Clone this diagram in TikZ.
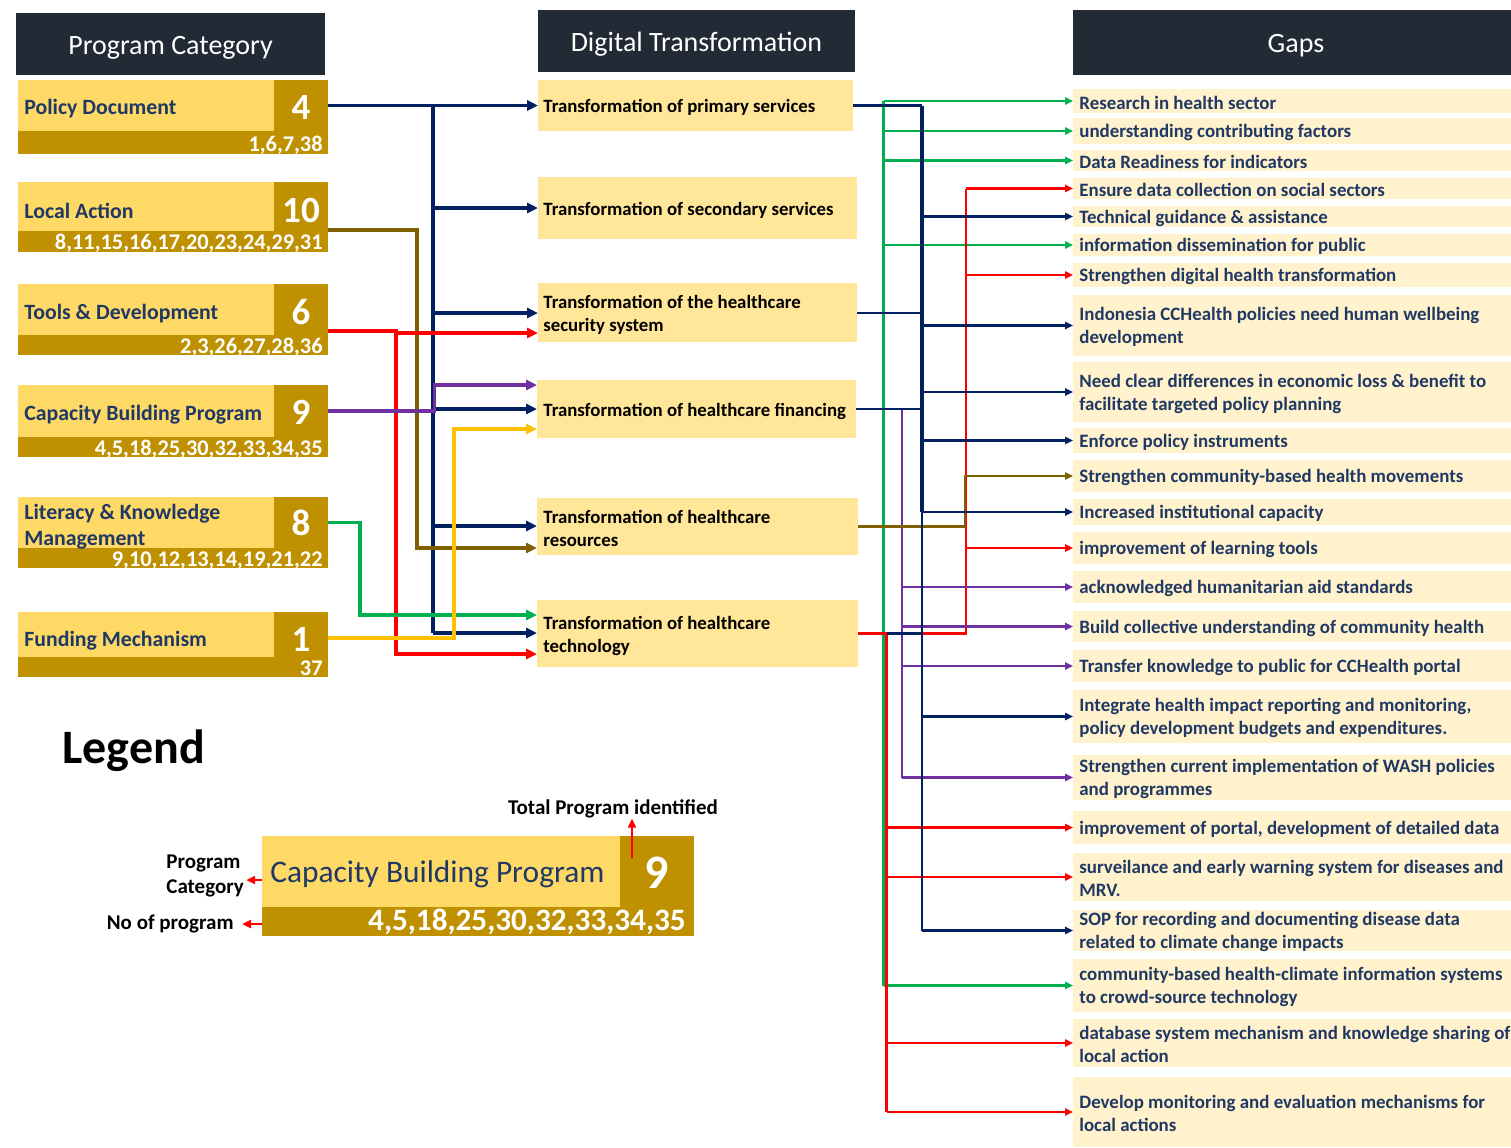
\documentclass[tikz,border=0pt]{standalone}
\usepackage{fontspec}
\setmainfont{Carlito}
\usetikzlibrary{fit,arrows.meta,calc}
\definecolor{hdr}{HTML}{222A35}
\definecolor{catL}{HTML}{FFD966}
\definecolor{catD}{HTML}{BF9000}
\definecolor{midB}{HTML}{FFE699}
\definecolor{gapB}{HTML}{FFF2CC}
\definecolor{navy}{HTML}{002060}
\definecolor{txtnavy}{HTML}{1F3864}
\definecolor{cred}{HTML}{FF0000}
\definecolor{cgreen}{HTML}{00B050}
\definecolor{cpurple}{HTML}{7030A0}
\definecolor{cbrown}{HTML}{7F6000}
\definecolor{cgold}{HTML}{FFC000}
\tikzset{
  box/.style={inner sep=0pt, outer sep=0pt, draw=none},
  hdrbox/.style={box, fill=hdr},
  hdrtext/.style={inner sep=0pt, yshift=-1.8pt, text=white, font=\fontsize{14}{16}\selectfont},
  catlight/.style={box, fill=catL},
  catdark/.style={box, fill=catD},
  cattext/.style={anchor=west, inner sep=0pt, yshift=-1.2pt, text=txtnavy, align=left, font=\bfseries\fontsize{10.9}{13}\selectfont},
  catnum/.style={inner sep=0pt, yshift=-0.6pt, text=white, font=\bfseries\fontsize{18.5}{20}\selectfont},
  catids/.style={anchor=east, inner sep=0pt, yshift=-0.6pt, text=white, font=\bfseries\fontsize{11.2}{12}\selectfont},
  midbox/.style={box, fill=midB},
  midtext/.style={anchor=west, inner sep=0pt, yshift=-1pt, text=black, align=left, font=\bfseries\fontsize{9.4}{11.5}\selectfont},
  gapbox/.style={box, fill=gapB},
  gaptext/.style={anchor=west, inner sep=0pt, yshift=-0.8pt, text=txtnavy, align=left, font=\bfseries\fontsize{9.45}{11.5}\selectfont},
  lconn/.style={line width=1.6pt},
  ltip/.style={-{Triangle[length=5.5pt,width=5pt]}},
  rline/.style={line width=1.1pt},
  rtip/.style={-{Triangle[length=4pt,width=3.6pt]}},
  legarrow/.style={cred, line width=1.2pt, -{Triangle[length=4.5pt,width=4pt]}},
  legnote/.style={inner sep=0pt, yshift=-1pt, text=black, align=left, font=\bfseries\fontsize{10.5}{12.5}\selectfont}
}
\begin{document}
\begin{tikzpicture}[x=0.5pt,y=-0.5pt]
\useasboundingbox (0,0) rectangle (1511,1147);
% headers
\node[hdrbox, fit={(16,13)(325,75)}] (pch) {};
\node[hdrtext] (pcht) at (pch.center) {Program Category};
\node[hdrbox, fit={(538,10)(855,72)}] (dth) {};
\node[hdrtext] (dtht) at (dth.center) {Digital Transformation};
\node[hdrbox, fit={(1073,10)(1511,75)}] (gph) {};
\node[hdrtext] (gpht) at ([xshift=2pt]gph.center) {Gaps};
% program categories
\node[catdark, fit={(18,80)(328,154)}] (pd) {};
\node[catlight, fit={(18,80)(274,131)}] (pdl) {};
\node[box, fit={(274,80)(328,131)}] (pdn) {};
\node[catnum] (pdnt) at (301,106) {4};
\node[cattext] (pdt) at (24,106) {Policy Document};
\node[catids] (pdi) at (323,144) {1,6,7,38};

\node[catdark, fit={(18,182)(328,252)}] (la) {};
\node[catlight, fit={(18,182)(274,231)}] (lal) {};
\node[box, fit={(274,182)(328,231)}] (lan) {};
\node[catnum] (lant) at (301,209) {10};
\node[cattext] (lat) at (24,209) {Local Action};
\node[catids] (lai) at (323,242) {8,11,15,16,17,20,23,24,29,31};

\node[catdark, fit={(18,284)(328,355)}] (td) {};
\node[catlight, fit={(18,284)(274,335)}] (tdl) {};
\node[box, fit={(274,284)(328,335)}] (tdn) {};
\node[catnum] (tdnt) at (301,311) {6};
\node[cattext] (tdt) at (24,311) {Tools \& Development};
\node[catids] (tdi) at (323,346) {2,3,26,27,28,36};

\node[catdark, fit={(18,385)(328,457)}] (cb) {};
\node[catlight, fit={(18,385)(274,437)}] (cbl) {};
\node[box, fit={(274,385)(328,437)}] (cbn) {};
\node[catnum] (cbnt) at (301,411) {9};
\node[cattext] (cbt) at (24,412) {Capacity Building Program};
\node[catids] (cbi) at (323,448) {4,5,18,25,30,32,33,34,35};

\node[catdark, fit={(18,497)(328,568)}] (lk) {};
\node[catlight, fit={(18,497)(274,548)}] (lkl) {};
\node[box, fit={(274,497)(328,548)}] (lkn) {};
\node[catnum] (lknt) at (301,522) {8};
\node[cattext] (lkt) at (24,524) {Literacy \& Knowledge\\Management};
\node[catids] (lki) at (323,559) {9,10,12,13,14,19,21,22};

\node[catdark, fit={(18,612)(328,677)}] (fm) {};
\node[catlight, fit={(18,612)(274,657)}] (fml) {};
\node[box, fit={(274,612)(328,657)}] (fmn) {};
\node[catnum] (fmnt) at (301,638) {1};
\node[cattext] (fmt) at (24,638) {Funding Mechanism};
\node[catids] (fmi) at (323,667) {37};
% digital transformation
\node[midbox, fit={(538,80)(853,131)}] (prim) {};
\node[midtext] (primt) at ([xshift=2.5pt]prim.west) {Transformation of primary services};
\node[midbox, fit={(538,177)(857,239)}] (sec) {};
\node[midtext] (sect) at ([xshift=2.5pt]sec.west) {Transformation of secondary services};
\node[midbox, fit={(538,283)(857,342)}] (secu) {};
\node[midtext] (secut) at ([xshift=2.5pt]secu.west) {Transformation of the healthcare\\security system};
\node[midbox, fit={(537,380)(856,438)}] (fin) {};
\node[midtext] (fint) at ([xshift=3pt]fin.west) {Transformation of healthcare financing};
\node[midbox, fit={(537,498)(858,555)}] (res) {};
\node[midtext] (rest) at ([xshift=3pt]res.west) {Transformation of healthcare\\resources};
\node[midbox, fit={(537,600)(858,667)}] (tech) {};
\node[midtext] (techt) at ([xshift=3pt]tech.west) {Transformation of healthcare\\technology};
% gaps
\node[gapbox, fit={(1073,89)(1511,113)}] (g1) {};
\node[gaptext] (g1t) at ([xshift=3pt]g1.west) {Research in health sector};
\node[gapbox, fit={(1073,118)(1511,144)}] (g2) {};
\node[gaptext] (g2t) at ([xshift=3pt]g2.west) {understanding contributing factors};
\node[gapbox, fit={(1073,150)(1511,171)}] (g3) {};
\node[gaptext] (g3t) at ([xshift=3pt]g3.west) {Data Readiness for indicators};
\node[gapbox, fit={(1073,178)(1511,199)}] (g4) {};
\node[gaptext] (g4t) at ([xshift=3pt]g4.west) {Ensure data collection on social sectors};
\node[gapbox, fit={(1073,206)(1511,227)}] (g5) {};
\node[gaptext] (g5t) at ([xshift=3pt]g5.west) {Technical guidance \& assistance};
\node[gapbox, fit={(1073,234)(1511,256)}] (g6) {};
\node[gaptext] (g6t) at ([xshift=3pt]g6.west) {information dissemination for public};
\node[gapbox, fit={(1073,263)(1511,287)}] (g7) {};
\node[gaptext] (g7t) at ([xshift=3pt]g7.west) {Strengthen digital health transformation};
\node[gapbox, fit={(1073,295)(1511,356)}] (g8) {};
\node[gaptext] (g8t) at ([xshift=3pt]g8.west) {Indonesia CCHealth policies need human wellbeing\\development};
\node[gapbox, fit={(1073,362)(1511,422)}] (g9) {};
\node[gaptext] (g9t) at ([xshift=3pt]g9.west) {Need clear differences in economic loss \& benefit to\\facilitate targeted policy planning};
\node[gapbox, fit={(1073,428)(1511,453)}] (g10) {};
\node[gaptext] (g10t) at ([xshift=3pt]g10.west) {Enforce policy instruments};
\node[gapbox, fit={(1073,460)(1511,492)}] (g11) {};
\node[gaptext] (g11t) at ([xshift=3pt]g11.west) {Strengthen community-based health movements};
\node[gapbox, fit={(1073,499)(1511,525)}] (g12) {};
\node[gaptext] (g12t) at ([xshift=3pt]g12.west) {Increased institutional capacity};
\node[gapbox, fit={(1073,532)(1511,564)}] (g13) {};
\node[gaptext] (g13t) at ([xshift=3pt]g13.west) {improvement of learning tools};
\node[gapbox, fit={(1073,571)(1511,603)}] (g14) {};
\node[gaptext] (g14t) at ([xshift=3pt]g14.west) {acknowledged humanitarian aid standards};
\node[gapbox, fit={(1073,611)(1511,642)}] (g15) {};
\node[gaptext] (g15t) at ([xshift=3pt]g15.west) {Build collective understanding of community health};
\node[gapbox, fit={(1073,650)(1511,682)}] (g16) {};
\node[gaptext] (g16t) at ([xshift=3pt]g16.west) {Transfer knowledge to public for CCHealth portal};
\node[gapbox, fit={(1073,690)(1511,743)}] (g17) {};
\node[gaptext] (g17t) at ([xshift=3pt]g17.west) {Integrate health impact reporting and monitoring,\\policy development budgets and expenditures.};
\node[gapbox, fit={(1073,755)(1511,800)}] (g18) {};
\node[gaptext] (g18t) at ([xshift=3pt]g18.west) {Strengthen current implementation of WASH policies\\and programmes};
\node[gapbox, fit={(1073,811)(1511,844)}] (g19) {};
\node[gaptext] (g19t) at ([xshift=3pt]g19.west) {improvement of portal, development of detailed data};
\node[gapbox, fit={(1073,853)(1511,901)}] (g20) {};
\node[gaptext] (g20t) at ([xshift=3pt]g20.west) {surveilance and early warning system for diseases and\\MRV.};
\node[gapbox, fit={(1073,910)(1511,951)}] (g21) {};
\node[gaptext] (g21t) at ([xshift=3pt]g21.west) {SOP for recording and documenting disease data\\related to climate change impacts};
\node[gapbox, fit={(1073,959)(1511,1012)}] (g22) {};
\node[gaptext] (g22t) at ([xshift=3pt]g22.west) {community-based health-climate information systems\\to crowd-source technology};
\node[gapbox, fit={(1073,1019)(1511,1067)}] (g23) {};
\node[gaptext] (g23t) at ([xshift=3pt]g23.west) {database system mechanism and knowledge sharing of\\local action};
\node[gapbox, fit={(1073,1077)(1511,1147)}] (g24) {};
\node[gaptext] (g24t) at ([xshift=3pt]g24.west) {Develop monitoring and evaluation mechanisms for\\local actions};
% bus coordinates
\coordinate (bN) at (433,0);
\coordinate (bP) at (434.5,0);
\coordinate (bB) at (417,0);
\coordinate (bR) at (396,0);
\coordinate (bG) at (360,0);
\coordinate (bY) at (454,0);
\coordinate (rN) at (922,0);
\coordinate (rG) at (883.5,0);
\coordinate (rR) at (966,0);
\coordinate (rL) at (886.5,0);
\coordinate (rP) at (902,0);
\coordinate (rB) at (965,0);
% left connectors
\draw[lconn,navy,ltip] (pdn.east) -- (prim.west);
\draw[lconn,navy] (bN |- pdn.east) -- (bN |- 0,633);
\draw[lconn,navy,ltip] (bN |- sec.west) -- (sec.west);
\draw[lconn,navy,ltip] (bN |- 0,313) -- (secu.west |- 0,313);
\draw[lconn,navy,ltip] (bN |- fin.west) -- (fin.west);
\draw[lconn,navy,ltip] (bN |- 0,526) -- (res.west |- 0,526);
\draw[lconn,navy,ltip] (bN |- 0,633) -- (tech.west |- 0,633);
\draw[lconn,cbrown,ltip] (lan.east |- 0,230) -- (bB |- 0,230) -- (bB |- 0,548) -- (res.west |- 0,548);
\draw[lconn,cred,ltip] (tdn.east |- 0,331) -- (bR |- 0,331) -- (bR |- 0,654) -- (tech.west |- 0,654);
\draw[lconn,cred,ltip] (bR |- 0,333) -- (secu.west |- 0,333);
\draw[lconn,cpurple,ltip] (cbn.east) -- (bP |- cbn.east) -- (bP |- 0,385) -- (fin.west |- 0,385);
\draw[lconn,cgreen,ltip] (lkn.east) -- (bG |- lkn.east) -- (bG |- 0,615) -- (tech.west |- 0,615);
\draw[lconn,cgold,ltip] (fmn.east |- 0,638) -- (bY |- 0,638) -- (bY |- 0,429) -- (fin.west |- 0,429);
% right connectors
\draw[rline,cgreen] (rG |- g1.west) -- (rG |- g22.west);
\foreach \g in {g1,g2,g3,g6,g22} \draw[rline,cgreen,rtip] (rG |- \g.west) -- (\g.west);
\draw[rline,cred] (tech.east) -- (rR |- tech.east) -- (rR |- g4.west);
\foreach \g in {g4,g7,g13} \draw[rline,cred,rtip] (rR |- \g.west) -- (\g.west);
\draw[rline,cred] (rL |- tech.east) -- (rL |- g24.west);
\foreach \g in {g19,g20,g23,g24} \draw[rline,cred,rtip] (rL |- \g.west) -- (\g.west);
\draw[rline,cpurple] (rP |- fin.east) -- (rP |- g18.west);
\foreach \g in {g14,g15,g16,g18} \draw[rline,cpurple,rtip] (rP |- \g.west) -- (\g.west);
\draw[rline,cbrown,rtip] (res.east) -- (rB |- res.east) -- (rB |- g11.west) -- (g11.west);
\draw[rline,navy] (prim.east) -- (rN |- prim.east);
\draw[navy,line width=2.3pt] (rN |- prim.east) -- (rN |- g12.west);
\draw[rline,navy] (rN |- g12.west) -- (rN |- g21.west);
\draw[rline,navy] (secu.east |- 0,313) -- (rN |- 0,313);
\draw[rline,navy] (fin.east) -- (rN |- fin.east);
\draw[rline,navy] (rL |- tech.east) -- (rN |- tech.east);
\foreach \g in {g5,g8,g9,g10,g12,g17,g21} \draw[rline,navy,rtip] (rN |- \g.west) -- (\g.west);
% legend
\node[inner sep=0pt, anchor=west, yshift=-1.8pt, text=black, font=\bfseries\fontsize{24}{26}\selectfont] (legt) at (62,747) {Legend};
\node[catdark, fit={(262,836)(694,936)}] (lg) {};
\node[catlight, fit={(262,836)(620,907)}] (lgl) {};
\node[box, fit={(620,836)(694,907)}] (lgn) {};
\node[inner sep=0pt, yshift=-0.5pt, text=white, font=\bfseries\fontsize{24}{26}\selectfont] (lgnt) at (lgn.center) {9};
\node[inner sep=0pt, anchor=west, yshift=-1pt, text=txtnavy, font=\fontsize{15.7}{18}\selectfont] (lgtt) at (270,872) {Capacity Building Program};
\node[inner sep=0pt, anchor=east, yshift=-0.6pt, text=white, font=\bfseries\fontsize{15.6}{17}\selectfont] (lgi) at (686,921) {4,5,18,25,30,32,33,34,35};
\node[legnote] (ltp) at (613,807) {Total Program identified};
\node[legnote, anchor=west] (lpc) at (166,874) {Program\\Category};
\node[legnote, anchor=east] (lnp) at (234,922) {No of program};
\coordinate (upstart) at (632,858);
\draw[legarrow] (upstart) -- (ltp.south -| upstart);
\draw[legarrow] (lgl.west |- 0,880) -- ([xshift=1pt]lpc.east |- 0,880);
\draw[legarrow] (lgl.west |- 0,924) -- ([xshift=4pt]lnp.east |- 0,924);
\end{tikzpicture}
\end{document}
